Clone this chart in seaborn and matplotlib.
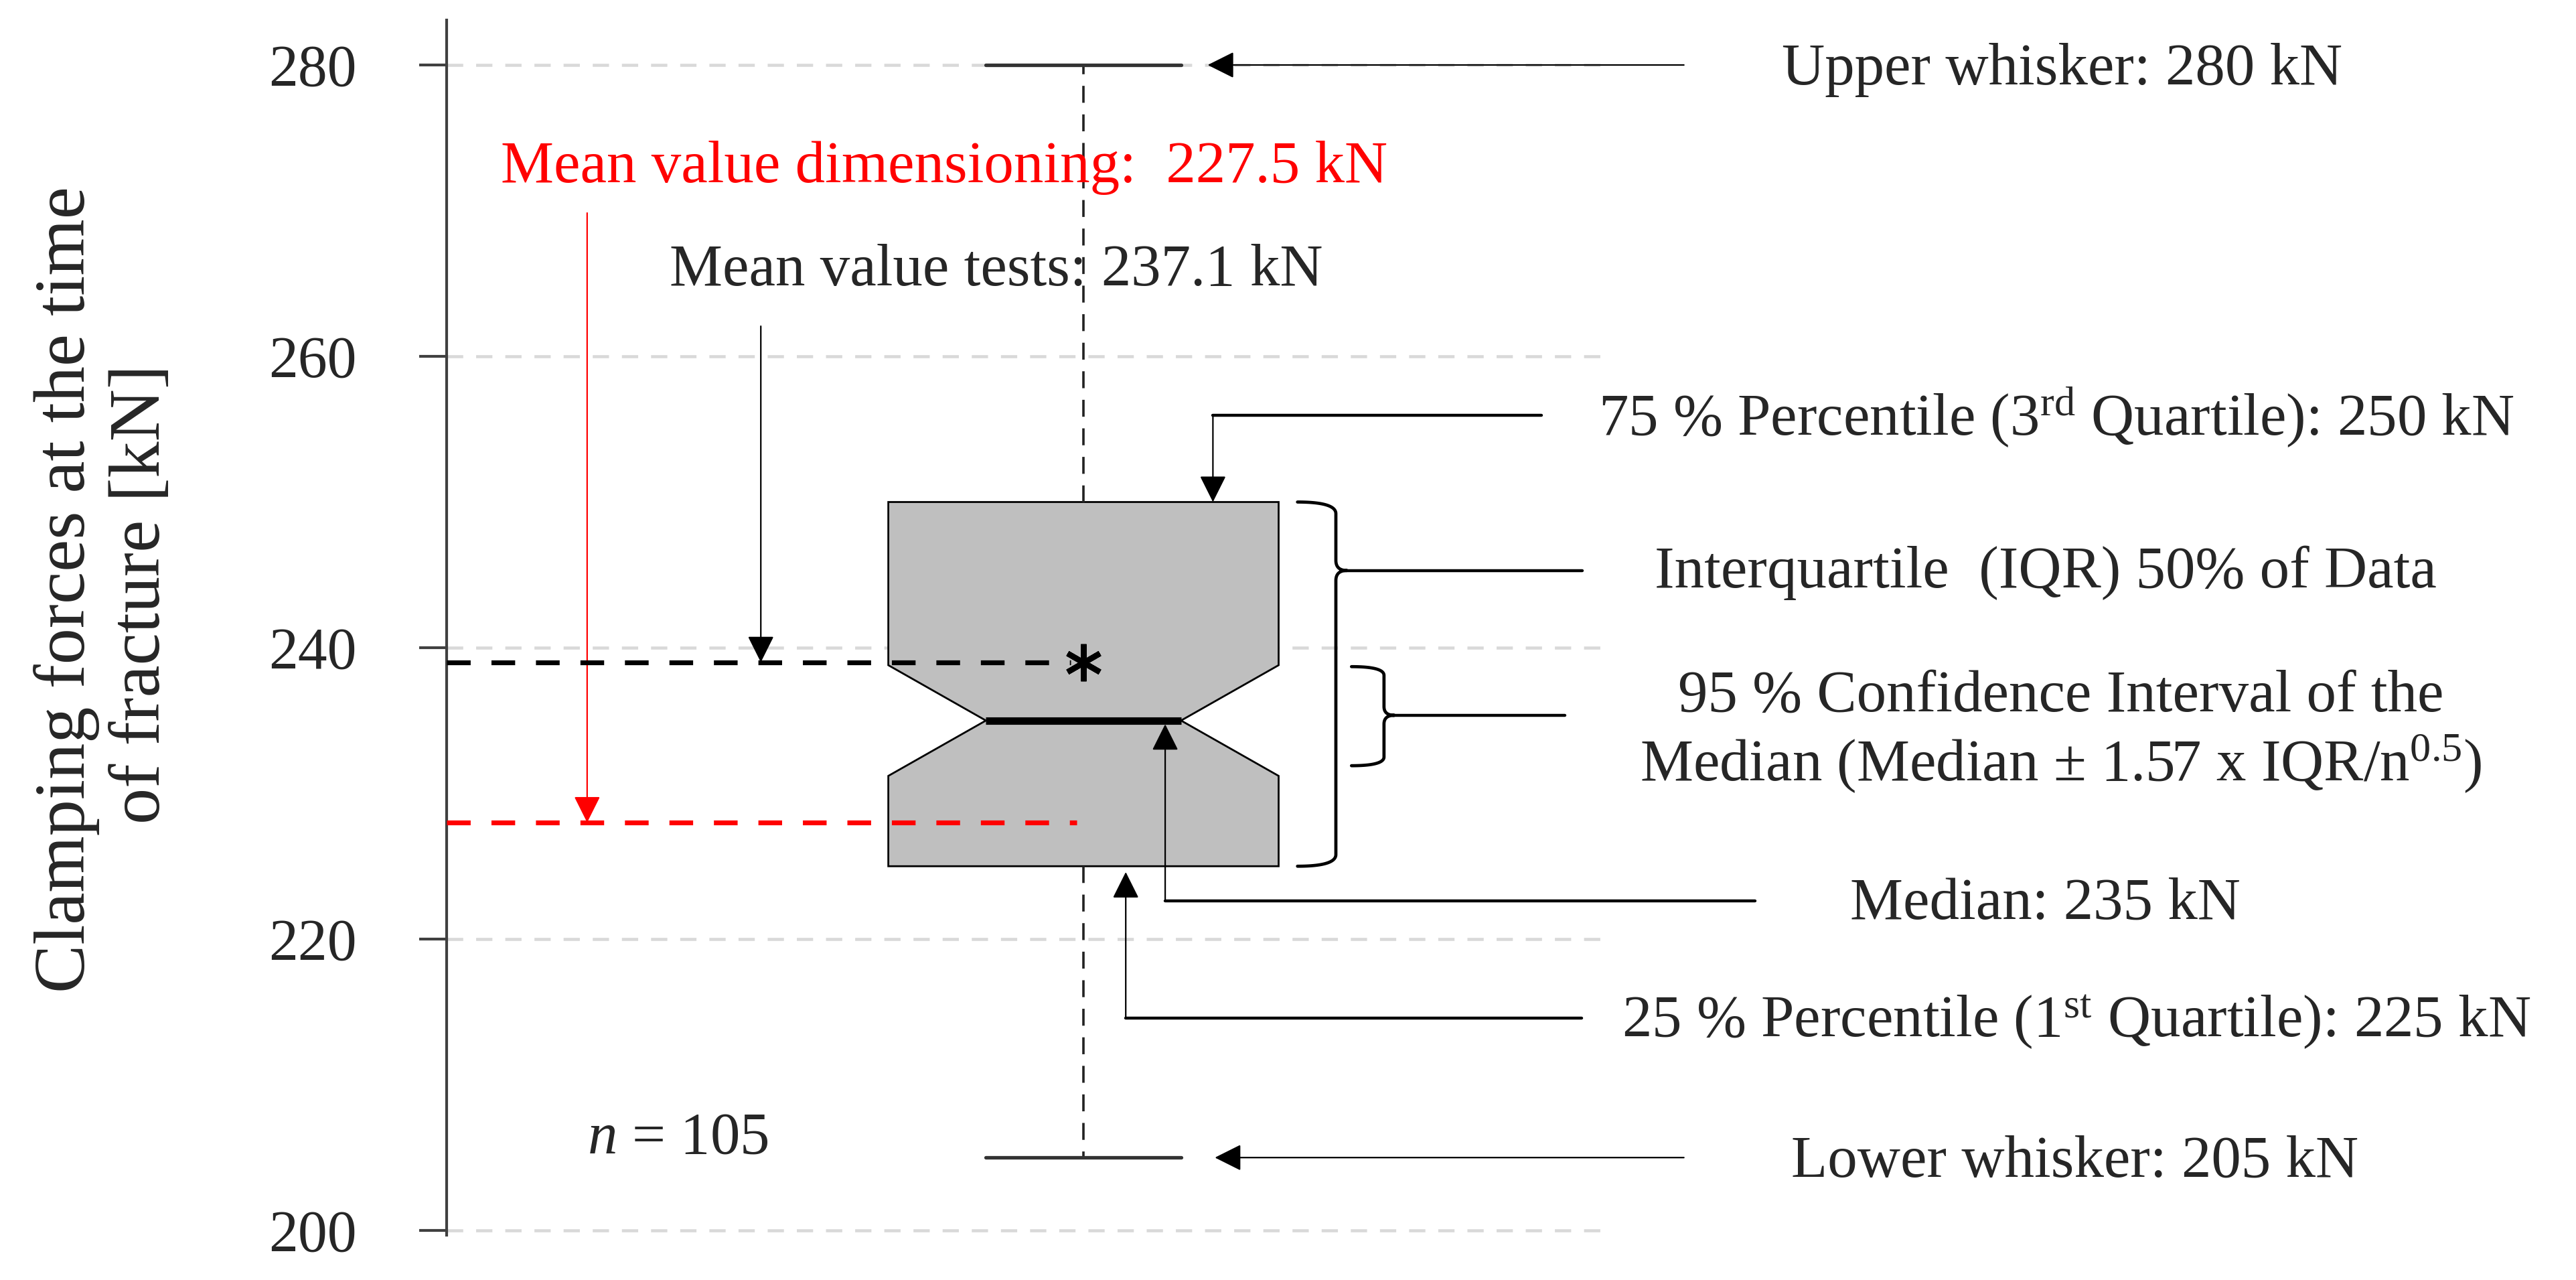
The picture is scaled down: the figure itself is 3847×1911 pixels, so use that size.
import numpy as np
import matplotlib
matplotlib.use("Agg")
import matplotlib.pyplot as plt
import seaborn as sns

# values of the box plot
median = 235
q1 = 225
q3 = 250
whisker_low = 205
whisker_high = 280
ci_low = 231.2
ci_high = 238.8
mean_tests = 239.0          # drawn position of the mean of the tests
mean_dimensioning = 228.0   # drawn position of the dimensioning mean
n_samples = 105

y_ticks = [200, 220, 240, 260, 280]
y_label_lines = ["Clamping forces at the time", "of fracture [kN]"]

label_upper = "Upper whisker: 280 kN"
label_lower = "Lower whisker: 205 kN"
label_dim = "Mean value dimensioning:  227.5 kN"
label_tests = "Mean value tests: 237.1 kN"
label_q3 = r"75 % Percentile (3$^{\mathrm{rd}}$ Quartile): 250 kN"
label_iqr = "Interquartile  (IQR) 50% of Data"
label_ci = ["95 % Confidence Interval of the",
            r"Median (Median ± 1.57 x IQR/n$^{0.5}$)"]
label_median = "Median: 235 kN"
label_q1 = r"25 % Percentile (1$^{\mathrm{st}}$ Quartile): 225 kN"
label_n = r"$n$ = 105"

sns.set_theme(style="white")
plt.rcParams["font.family"] = ["Liberation Serif", "DejaVu Serif"]
plt.rcParams["mathtext.fontset"] = "custom"
plt.rcParams["mathtext.rm"] = "Liberation Serif"
plt.rcParams["mathtext.it"] = "Liberation Serif:italic"

W, H = 3848, 1911
fig = plt.figure(figsize=(W / 100, H / 100), dpi=100)
fig.patch.set_facecolor("white")
ax = fig.add_axes([667 / W, (H - 1843.5) / H, (2403 - 667) / W, (1843.5 - 29.6) / H])
ax.set_facecolor("white")

pos = 0.0
box_width = 0.6
stats = [dict(med=median, q1=q1, q3=q3, whislo=whisker_low, whishi=whisker_high,
              mean=mean_tests, cilo=ci_low, cihi=ci_high, fliers=[], label="")]

ax.bxp(stats, positions=[pos], widths=box_width, shownotches=True,
       showmeans=True, showfliers=False, patch_artist=True,
       boxprops=dict(facecolor="#BFBFBF", edgecolor="black", linewidth=2),
       medianprops=dict(color="black", linewidth=8, solid_capstyle="butt"),
       whiskerprops=dict(color="#222222", linewidth=2.6, linestyle=(0, (7, 4.8))),
       capprops=dict(color="#333333", linewidth=3.8),
       meanprops=dict(marker=(6, 2, 0), markersize=40, markeredgecolor="black",
                      markeredgewidth=6, zorder=6))

x_left, x_right = -0.979, 0.808
ax.set_xlim(x_left, x_right)
ax.set_ylim(199.7, 283.1)

# mean lines
ax.hlines(mean_tests, x_left, pos - 0.02, colors="black", linewidth=5.2,
          linestyles=[(0, (4.9, 4.3))], zorder=4)
ax.hlines(mean_dimensioning, x_left, pos - 0.01, colors="#FF0000", linewidth=5.2,
          linestyles=[(0, (4.9, 4.3))], zorder=4)

# axis styling
ax.set_yticks(y_ticks)
ax.set_yticklabels([str(t) for t in y_ticks], fontsize=63)
ax.set_xticks([])
ax.tick_params(axis="y", direction="out", length=29.5, width=3, color="#404040",
               pad=67, left=True)
ax.yaxis.grid(True, color="#D9D9D9", linestyle=(0, (5.3, 4.2)), linewidth=3.3)
ax.set_axisbelow(True)
sns.despine(ax=ax, top=True, right=True, bottom=True, left=False)
ax.spines["left"].set_color("#404040")
ax.spines["left"].set_linewidth(3)

# y label as two rotated lines
fig.text(126 / W, 1 - 880 / H, y_label_lines[0], rotation=90, rotation_mode="anchor",
         ha="center", va="baseline", fontsize=78)
fig.text(238 / W, 1 - 887 / H, y_label_lines[1], rotation=90, rotation_mode="anchor",
         ha="center", va="baseline", fontsize=78)

fs = 64
thin = 1.6
thick = 3.2


def arrow(tip, tail, color="black", lw=thin):
    ax.annotate("", xy=tip, xytext=tail, annotation_clip=False,
                arrowprops=dict(arrowstyle="-|>", color=color, lw=lw,
                                mutation_scale=62, shrinkA=0, shrinkB=0))


def brace(x_end, x_spine, x_tip, y_top, y_bot, y_tip, ry=0.8, rt=0.7):
    t = np.linspace(0, 1, 30)[:, None]

    def bez(p0, p1, p2):
        p0, p1, p2 = map(np.array, (p0, p1, p2))
        return (1 - t) ** 2 * p0 + 2 * (1 - t) * t * p1 + t ** 2 * p2

    parts = [
        bez((x_end, y_top), (x_spine, y_top), (x_spine, y_top - ry)),
        bez((x_spine, y_tip + rt), (x_spine, y_tip), (x_tip, y_tip)),
        bez((x_tip, y_tip), (x_spine, y_tip), (x_spine, y_tip - rt)),
        bez((x_spine, y_bot + ry), (x_spine, y_bot), (x_end, y_bot)),
    ]
    pts = np.vstack(parts)
    ax.plot(pts[:, 0], pts[:, 1], color="black", lw=3.4, clip_on=False,
            solid_joinstyle="round")


# upper / lower whisker
arrow((0.191, whisker_high), (0.923, whisker_high))
ax.text(1.074, 278.67, label_upper, fontsize=fs, va="baseline", ha="left")
arrow((0.202, whisker_low), (0.923, whisker_low))
ax.text(1.088, 203.7, label_lower, fontsize=fs, va="baseline", ha="left")

# mean value dimensioning (red)
ax.text(-0.8955, 271.95, label_dim, fontsize=fs, color="#FF0000", va="baseline")
arrow((-0.763, mean_dimensioning), (-0.763, 269.84), color="#FF0000")

# mean value tests
ax.text(-0.636, 264.87, label_tests, fontsize=fs, va="baseline")
arrow((-0.496, mean_tests), (-0.496, 262.07))

# 75 % percentile
ax.plot([0.704, 0.199], [255.95, 255.95], color="black", lw=thick, clip_on=False)
arrow((0.199, q3), (0.199, 255.95))
ax.text(0.7916, 254.57, label_q3, fontsize=fs, va="baseline")

# interquartile brace
brace(0.329, 0.388, 0.405, q3, q1, 245.3)
ax.plot([0.40, 0.767], [245.3, 245.3], color="black", lw=thick, clip_on=False)
ax.text(0.878, 244.14, label_iqr, fontsize=fs, va="baseline")

# confidence interval brace
brace(0.412, 0.462, 0.478, 238.7, 231.9, 235.36, ry=0.6, rt=0.6)
ax.plot([0.475, 0.740], [235.36, 235.36], color="black", lw=thick, clip_on=False)
ax.text(1.503, 235.63, label_ci[0], fontsize=fs, va="baseline", ha="center")
ax.text(1.503, 230.9, label_ci[1], fontsize=fs, va="baseline", ha="center")

# median
ax.plot([1.032, 0.1256], [222.62, 222.62], color="black", lw=thick, clip_on=False)
arrow((0.1256, median - 0.25), (0.1256, 222.62))
ax.text(1.1786, 221.4, label_median, fontsize=fs, va="baseline")

# 25 % percentile
ax.plot([0.766, 0.065], [214.57, 214.57], color="black", lw=thick, clip_on=False)
arrow((0.065, q1 - 0.4), (0.065, 214.57))
ax.text(0.8276, 213.3, label_q1, fontsize=fs, va="baseline")

# sample size
ax.text(-0.763, 205.3, label_n, fontsize=fs, va="baseline")

fig.savefig("out.png", dpi=100)
